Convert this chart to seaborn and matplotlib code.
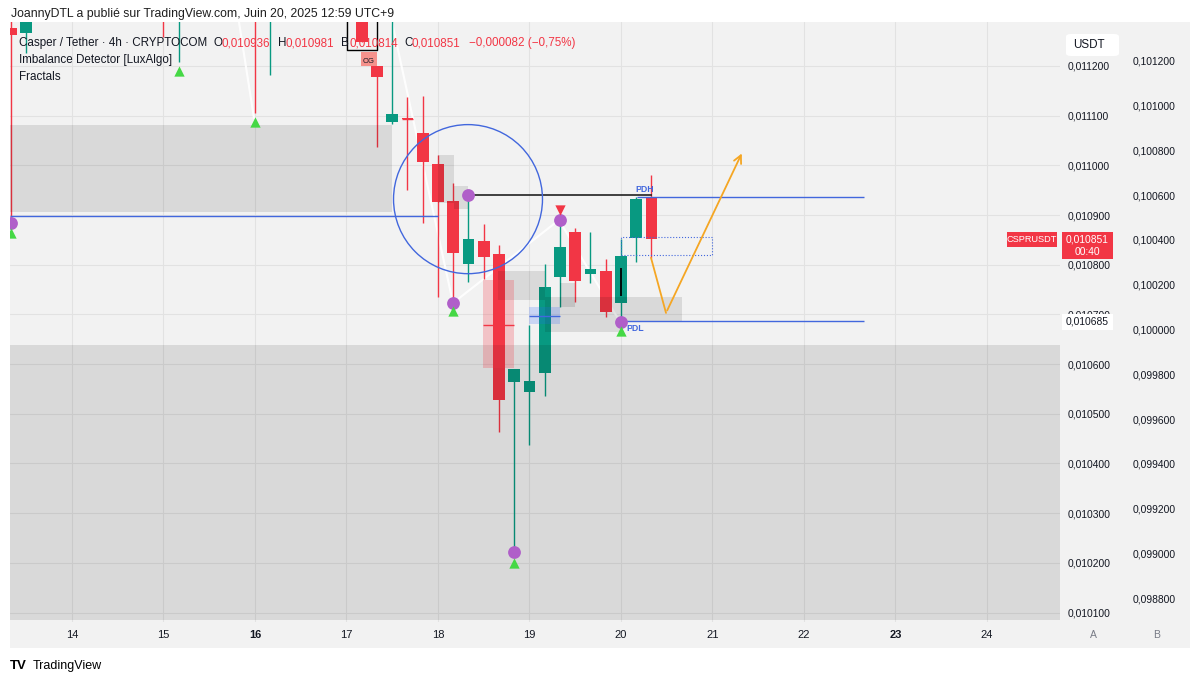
import matplotlib
matplotlib.use("Agg")
import matplotlib.pyplot as plt
from matplotlib.patches import Rectangle, Ellipse, FancyBboxPatch
from matplotlib.transforms import blended_transform_factory
import numpy as np
import pandas as pd
import seaborn as sns

# 4h bars, counted from Jun 18 00:00 (bar 0)
bar_n = [-28, -27, -18, -17, -12, -11, -5, -4, -3, -2, -1, 0, 1, 2, 3, 4, 5, 6, 7, 8, 9, 10, 11, 12, 13, 14]
opens = [0.011276, 0.011266, 0.011400, 0.011340, 0.011450, 0.011400, 0.011350, 0.011200, 0.011087, 0.011095,
         0.011065, 0.011003, 0.010928, 0.010802, 0.010848, 0.010822, 0.010564, 0.010544, 0.010582, 0.010776,
         0.010866, 0.010782, 0.010788, 0.010723, 0.010854, 0.010936]
highs = [0.011320, 0.011400, 0.011450, 0.011450, 0.011500, 0.011500, 0.011400, 0.011200, 0.011350, 0.011138,
         0.011140, 0.011021, 0.010965, 0.010940, 0.010882, 0.010840, 0.010590, 0.010679, 0.010801, 0.010890,
         0.010874, 0.010866, 0.010812, 0.010852, 0.010936, 0.010981]
lows = [0.010884, 0.011226, 0.011258, 0.011208, 0.011105, 0.011182, 0.011248, 0.011037, 0.011083, 0.010950,
        0.010884, 0.010735, 0.010723, 0.010765, 0.010771, 0.010464, 0.010222, 0.010437, 0.010536, 0.010715,
        0.010725, 0.010763, 0.010695, 0.010685, 0.010806, 0.010814]
closes = [0.011262, 0.011350, 0.011350, 0.011400, 0.011400, 0.011450, 0.011248, 0.011178, 0.011103, 0.011093,
          0.011007, 0.010926, 0.010824, 0.010852, 0.010816, 0.010528, 0.010590, 0.010566, 0.010755, 0.010836,
          0.010767, 0.010792, 0.010705, 0.010818, 0.010932, 0.010851]

# fractals
circle_n = [-28, 1, 2, 5, 8, 12]
circle_p = [0.010884, 0.010723, 0.010940, 0.010222, 0.010890, 0.010685]
up_n = [-28, -17, -12, 1, 5, 12]
up_p = [0.010864, 0.011190, 0.011087, 0.010707, 0.010200, 0.010667]
down_n = [8]
down_p = [0.010910]

# imbalance boxes (day from, day to, low, high)
gray_boxes = [(13.32, 17.497, 0.010906, 0.011081),
              (13.32, 24.80, 0.010085, 0.010639),
              (18.0, 18.175, 0.010924, 0.011021),
              (18.175, 18.328, 0.010912, 0.010959),
              (18.656, 19.169, 0.010729, 0.010788),
              (19.333, 19.497, 0.010715, 0.010763),
              (19.169, 20.667, 0.010687, 0.010735),
              (19.169, 19.989, 0.010665, 0.010687)]
pink_box = (18.492, 18.831, 0.010592, 0.010769, 0.010679)
blue_box = (18.995, 19.333, 0.010681, 0.010715, 0.010697)
og_box = (17.158, 17.333, 0.011200, 0.011228)

# drawings
blue_lines = [(13.32, 18.0, 0.010898), (20.175, 22.656, 0.010936), (19.989, 22.656, 0.010686)]
black_line = (18.328, 20.339, 0.010940)
zigzag_a_x = [15.825, 15.989]
zigzag_a_y = [0.0112885, 0.011095]
zigzag_b_x = [17.497, 18.164, 19.322, 19.989]
zigzag_b_y = [0.0112885, 0.010723, 0.010890, 0.010685]
orange_x = [20.328, 20.492, 21.333]
orange_y = [0.010814, 0.010703, 0.011029]
dotted_rect = (19.9995, 20.995, 0.010820, 0.010856)
circle_center = (18.328, 0.010932)
circle_size = (1.628, 0.0003)

day_ticks = [14, 15, 16, 17, 18, 19, 20, 21, 22, 23, 24]
price_ticks = [0.0101, 0.0102, 0.0103, 0.0104, 0.0105, 0.0106, 0.0107, 0.0108, 0.0109, 0.0110, 0.0111, 0.0112]
b_ticks = [0.0988, 0.0990, 0.0992, 0.0994, 0.0996, 0.0998, 0.1000, 0.1002, 0.1004, 0.1006, 0.1008, 0.1010, 0.1012]

GREEN = '#089981'
RED = '#f23645'
BLUE = '#4267dd'
PURPLE = '#b05fc9'
LIME = '#45d845'
PANEL = '#f2f2f2'
TXT = '#131722'

sns.set_theme(style="white")
plt.rcParams['font.family'] = ['Liberation Sans', 'DejaVu Sans']

W, H = 1200, 684
fig = plt.figure(figsize=(12, 6.84), dpi=100, facecolor='white')
fig.patches.append(Rectangle((10 / W, 36 / H), 1180 / W, 626 / H, transform=fig.transFigure,
                             facecolor=PANEL, edgecolor='none', zorder=-10))
ax = fig.add_axes([10 / W, 62 / H, 1050 / W, 600 / H])
ax.set_facecolor(PANEL)
for s in ax.spines.values():
    s.set_visible(False)

df = pd.DataFrame(dict(n=bar_n, o=opens, h=highs, l=lows, c=closes))
df['day'] = 18 + df.n / 6
df['col'] = np.where(df.c >= df.o, GREEN, RED)
ax.vlines(df.day, df.l, df.h, colors=df.col, lw=1, zorder=3)
ax.bar(df.day, (df.c - df.o).abs().clip(lower=3e-6), bottom=df[['o', 'c']].min(axis=1),
       width=0.13, color=df.col, linewidth=0, zorder=4)
# doji cross
dj = df[df.n == -2].iloc[0]
ax.hlines(dj.c, dj.day - 0.065, dj.day + 0.065, color=RED, lw=1, zorder=4)

for x0, x1, lo, hi in gray_boxes:
    ax.add_patch(Rectangle((x0, lo), x1 - x0, hi - lo, facecolor='black', alpha=0.1, lw=0, zorder=5))
x0, x1, lo, hi, mid = pink_box
ax.add_patch(Rectangle((x0, lo), x1 - x0, hi - lo, facecolor=RED, alpha=0.25, lw=0, zorder=5))
ax.hlines(mid, x0, x1, color=RED, lw=1, zorder=5)
x0, x1, lo, hi, mid = blue_box
ax.add_patch(Rectangle((x0, lo), x1 - x0, hi - lo, facecolor='#2962ff', alpha=0.2, lw=0, zorder=5))
ax.hlines(mid, x0, x1, color=BLUE, lw=1, zorder=5)
x0, x1, lo, hi = og_box
ax.add_patch(Rectangle((x0, lo), x1 - x0, hi - lo, facecolor='#f5928c', lw=0, zorder=5))
ax.text((x0 + x1) / 2, (lo + hi) / 2 - 0.000004, 'OG', fontsize=5.5, color=TXT, ha='center', va='center', zorder=6)
# black bracket around top bars
ax.plot([17.005, 17.005, 17.333, 17.333], [0.0113, 0.011232, 0.011232, 0.0113], color='black', lw=1, zorder=6)
ax.vlines(20.0, 0.010737, 0.010794, color='black', lw=1.3, zorder=6)

ax.plot(zigzag_a_x, zigzag_a_y, color='white', lw=1.5, alpha=0.9, zorder=2)
ax.plot(zigzag_b_x, zigzag_b_y, color='white', lw=1.5, alpha=0.9, zorder=2)

for x0, x1, y in blue_lines:
    ax.hlines(y, x0, x1, color=BLUE, lw=1, zorder=6)
x0, x1, y = black_line
ax.hlines(y, x0, x1, color='#222222', lw=1.2, zorder=6)
x0, x1, lo, hi = dotted_rect
ax.add_patch(Rectangle((x0, lo), x1 - x0, hi - lo, fill=False, edgecolor=BLUE, ls=':', lw=0.8, zorder=6))
ax.add_patch(Ellipse(circle_center, circle_size[0], circle_size[1], fill=False, edgecolor=BLUE, lw=1, zorder=6))
ax.plot(orange_x[:2], orange_y[:2], color='#f5a623', lw=1.3, zorder=6)
ax.annotate('', xy=(orange_x[2], orange_y[2]), xytext=(orange_x[1], orange_y[1]),
            arrowprops=dict(arrowstyle='->', color='#f5a623', lw=1.3, mutation_scale=14), zorder=6)
ax.text(20.262, 0.010952, 'PDH', fontsize=6.3, color=BLUE, fontweight='bold', ha='center', va='center', zorder=7)
ax.text(20.15, 0.010672, 'PDL', fontsize=6.3, color=BLUE, fontweight='bold', ha='center', va='center', zorder=7)

sns.scatterplot(x=np.array(circle_n) / 6 + 18, y=circle_p, marker='o', s=85, color=PURPLE,
                linewidth=0, ax=ax, zorder=8)
sns.scatterplot(x=np.array(up_n) / 6 + 18, y=up_p, marker='^', s=55, color=LIME,
                linewidth=0, ax=ax, zorder=8)
sns.scatterplot(x=np.array(down_n) / 6 + 18, y=down_p, marker='v', s=55, color=RED,
                linewidth=0, ax=ax, zorder=8)

ax.set_xlim(13.3224, 24.798)
ax.set_ylim(0.010081, 0.0112885)
ax.set_xlabel('')
ax.set_ylabel('')
ax.set_xticks(day_ticks)
ax.set_xticklabels([str(d) for d in day_ticks], fontsize=8, color=TXT)
for lab in ax.get_xticklabels():
    if lab.get_text() in ('16', '23'):
        lab.set_fontweight('bold')
ax.tick_params(axis='x', length=0, pad=6)
ax.grid(True, color='#e2e2e2', lw=0.8)
ax.set_axisbelow(True)

ax2 = ax.twinx()
ax2.set_ylim(0.098693, 0.101374)
ax2.set_yticks(b_ticks)
ax2.set_yticklabels([f"{v:.6f}".replace('.', ',') for v in b_ticks], fontsize=7.4, color=TXT)
ax2.tick_params(axis='y', length=0, pad=52.6)
ax2.grid(False)
for s in ax2.spines.values():
    s.set_visible(False)

# twinx moves the main ticks to the left, put them back on the right
ax.yaxis.tick_right()
ax.set_yticks(price_ticks)
ax.set_yticklabels([f"{v:.6f}".replace('.', ',') for v in price_ticks], fontsize=7.4, color=TXT)
ax.tick_params(axis='y', which='both', left=False, labelleft=False, right=False, labelright=True,
               length=0, pad=5.8)

# price labels on the scale
tr = blended_transform_factory(ax.transAxes, ax.transData)
ax.add_patch(Rectangle((1.0019, 0.010812), 0.0486, 0.000054, transform=tr, facecolor=RED, lw=0,
                       clip_on=False, zorder=9))
ax.text(1.0262, closes[-1], '0,010851', transform=tr, fontsize=7.4, color='white', ha='center', va='center',
        clip_on=False, zorder=10)
ax.text(1.0262, 0.010826, '00:40', transform=tr, fontsize=7.4, color='white', ha='center', va='center',
        clip_on=False, zorder=10)
ax.add_patch(Rectangle((0.9495, 0.010836), 0.0476, 0.00003, transform=tr, facecolor=RED, lw=0,
                       clip_on=False, zorder=9))
ax.text(0.9733, closes[-1], 'CSPRUSDT', transform=tr, fontsize=6.6, color='white', ha='center', va='center',
        clip_on=False, zorder=10)
ax.add_patch(Rectangle((1.0019, 0.010669), 0.0486, 0.000032, transform=tr, facecolor='white', lw=0,
                       clip_on=False, zorder=9))
ax.text(1.0262, 0.010685, '0,010685', transform=tr, fontsize=7.4, color=TXT, ha='center', va='center',
        clip_on=False, zorder=10)

# header and legend text
fig.patches.append(FancyBboxPatch((1066 / W, 1 - 56 / H), 53 / W, 22 / H, boxstyle='round,pad=0,rounding_size=0.004',
                                  transform=fig.transFigure, facecolor='white', edgecolor='none', zorder=5))
fig.text(1073 / W, 1 - 45 / H, 'USDT', fontsize=8.4, color=TXT, va='center', zorder=6)
fig.text(11 / W, 1 - 14 / H, 'JoannyDTL a publié sur TradingView.com, Juin 20, 2025 12:59 UTC+9',
         fontsize=8.8, color='#1e1e1e', va='center')
fig.text(19 / W, 1 - 43 / H, 'Casper / Tether · 4h · CRYPTOCOM', fontsize=8.4, color=TXT, va='center')
legend_bits = [(213, 'O', TXT), (222, '0,010936', RED), (278, 'H', TXT), (286, '0,010981', RED),
               (341, 'B', TXT), (350, '0,010814', RED), (404, 'C', TXT), (412, '0,010851', RED),
               (469, '−0,000082 (−0,75%)', RED)]
for px, s, c in legend_bits:
    fig.text(px / W, 1 - 43 / H, s, fontsize=8.4, color=c, va='center')
fig.text(19 / W, 1 - 60 / H, 'Imbalance Detector [LuxAlgo]', fontsize=8.4, color=TXT, va='center')
fig.text(19 / W, 1 - 77 / H, 'Fractals', fontsize=8.4, color=TXT, va='center')
fig.text(1093 / W, 1 - 635 / H, 'A', fontsize=7.5, color='#787b86', ha='center', va='center')
fig.text(1157 / W, 1 - 635 / H, 'B', fontsize=7.5, color='#787b86', ha='center', va='center')
fig.text(10 / W, 1 - 666 / H, 'TV', fontsize=9.5, color='black', fontweight='heavy', va='center')
fig.text(33 / W, 1 - 666 / H, 'TradingView', fontsize=9, color='black', va='center')

fig.savefig('out.png', dpi=100, facecolor='white')
